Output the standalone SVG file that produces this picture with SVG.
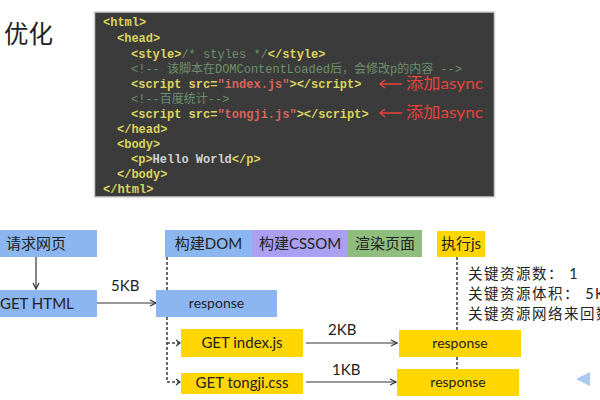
<svg xmlns="http://www.w3.org/2000/svg" width="600" height="400" viewBox="0 0 600 400">
<defs>
<style>
.code{font-family:"Liberation Mono","Noto Sans CJK SC",monospace;font-size:12px;font-weight:bold}
.tag{fill:#ddd45e}
.cm{fill:#6e8f6e;font-weight:normal}
.str{fill:#d8655c}
.txt{fill:#d2d2d2}
.red{font-family:"Lato","Noto Sans CJK SC",sans-serif;font-size:16px;fill:#e8433a}
.lbl{font-family:"Lato","Noto Sans CJK SC",sans-serif;font-size:15px;fill:#222}
.resp{font-size:14px}
.mid{text-anchor:middle}
.blue{fill:#8bb6ef}
.purple{fill:#aa9ff0}
.green{fill:#8fbd7e}
.yellow{fill:#ffd600}
.solid{stroke:#333;stroke-width:1.2;fill:none}
.dash{stroke:#444;stroke-width:1.6;fill:none;stroke-dasharray:3 2}
.info{font-family:"Lato","Noto Sans CJK SC",sans-serif;font-size:14.5px;letter-spacing:1.5px;fill:#222}
</style>
<marker id="chev" viewBox="0 0 8 8" refX="7" refY="4" markerWidth="8" markerHeight="8" markerUnits="userSpaceOnUse" orient="auto">
<path d="M1,1 L7,4 L1,7" fill="none" stroke="#333" stroke-width="1.2"/>
</marker>
</defs>
<rect width="600" height="400" fill="#ffffff"/>
<text x="4" y="43" font-family="Noto Sans CJK SC,sans-serif" font-size="24.5" fill="#222">优化</text>

<g id="code">
<rect x="94.5" y="12" width="400" height="185" fill="#3b3b3b" stroke="#cfcfcf" stroke-width="1.5"/>
<text class="code tag" x="103" y="26">&lt;html&gt;</text>
<text class="code tag" x="117" y="42">&lt;head&gt;</text>
<text class="code" x="131" y="58"><tspan class="tag">&lt;style&gt;</tspan><tspan class="cm">/* styles */</tspan><tspan class="tag">&lt;/style&gt;</tspan></text>
<text class="code cm" x="131" y="73" textLength="331" lengthAdjust="spacing">&lt;!-- 该脚本在DOMContentLoaded后，会修改p的内容 --&gt;</text>
<text class="code" x="131" y="88"><tspan class="tag">&lt;script src=</tspan><tspan class="str">"index.js"</tspan><tspan class="tag">&gt;&lt;/script&gt;</tspan></text>
<text class="code cm" x="131" y="103">&lt;!--百度统计--&gt;</text>
<text class="code" x="131" y="118"><tspan class="tag">&lt;script src=</tspan><tspan class="str">"tongji.js"</tspan><tspan class="tag">&gt;&lt;/script&gt;</tspan></text>
<text class="code tag" x="117" y="133">&lt;/head&gt;</text>
<text class="code tag" x="117" y="148">&lt;body&gt;</text>
<text class="code" x="131" y="163"><tspan class="tag">&lt;p&gt;</tspan><tspan class="txt">Hello World</tspan><tspan class="tag">&lt;/p&gt;</tspan></text>
<text class="code tag" x="117" y="178">&lt;/body&gt;</text>
<text class="code tag" x="103" y="193">&lt;/html&gt;</text>
<g id="async1"><path d="M380,84 H402 M385,80 L380,84 L385,88" fill="none" stroke="#e8433a" stroke-width="1.3"/><text class="red" x="406" y="89" textLength="77" lengthAdjust="spacingAndGlyphs">添加async</text></g>
<g id="async2"><path d="M380,113 H402 M385,109 L380,113 L385,117" fill="none" stroke="#e8433a" stroke-width="1.3"/><text class="red" x="406" y="118" textLength="77" lengthAdjust="spacingAndGlyphs">添加async</text></g>
</g>

<g id="connectors">
<line class="solid" x1="36" y1="257" x2="36" y2="289" marker-end="url(#chev)"/>
<line class="solid" x1="97" y1="303" x2="156" y2="303" marker-end="url(#chev)"/>
<line class="solid" x1="306" y1="343" x2="397" y2="343" marker-end="url(#chev)"/>
<line class="solid" x1="306" y1="382" x2="396" y2="382" marker-end="url(#chev)"/>
<path class="dash" d="M167,257 V382 H180"/>
<path class="dash" d="M167,343 H180"/>
<path d="M176,340 L180,343 L176,346 M176,379 L180,382 L176,385" fill="none" stroke="#333" stroke-width="1.2"/>
<path class="dash" d="M457,257 V330 M457,357 V369"/>
<text class="lbl" x="111" y="291">5KB</text>
<text class="lbl" x="328" y="335">2KB</text>
<text class="lbl" x="332" y="375">1KB</text>
</g>

<g id="req"><rect class="blue" x="0" y="230" width="97" height="27"/><text class="lbl" x="6" y="249">请求网页</text></g>
<g id="gethtml"><rect class="blue" x="0" y="290" width="97" height="27"/><text class="lbl" x="0" y="309">GET HTML</text></g>
<g id="resp1"><rect class="blue" x="156" y="290" width="121" height="27"/><text class="lbl mid resp" x="216.5" y="308">response</text></g>
<g id="dom"><rect class="blue" x="165" y="230" width="87" height="27"/><text class="lbl mid" x="208.5" y="249">构建DOM</text></g>
<g id="cssom"><rect class="purple" x="252" y="230" width="96" height="27"/><text class="lbl mid" x="300" y="249">构建CSSOM</text></g>
<g id="render"><rect class="green" x="348" y="230" width="74" height="27"/><text class="lbl mid" x="385" y="249">渲染页面</text></g>
<g id="execjs"><rect class="yellow" x="437" y="231" width="48" height="26"/><text class="lbl mid" x="461" y="249">执行js</text></g>
<g id="getindex"><rect class="yellow" x="181" y="329" width="122" height="28"/><text class="lbl mid" x="242" y="348">GET index.js</text></g>
<g id="gettongji"><rect class="yellow" x="181" y="373" width="122" height="21"/><text class="lbl mid" x="242" y="388">GET tongji.css</text></g>
<g id="resp2"><rect class="yellow" x="399" y="330" width="122" height="27"/><text class="lbl mid resp" x="460" y="348">response</text></g>
<g id="resp3"><rect class="yellow" x="397" y="369" width="122" height="27"/><text class="lbl mid resp" x="458" y="387">response</text></g>

<g id="info">
<text class="info" x="468" y="279">关键资源数： 1</text>
<text class="info" x="468" y="299">关键资源体积： 5KB</text>
<text class="info" x="468" y="319">关键资源网络来回数： 1</text>
</g>
<polygon points="590,372 590,386 576,379" fill="#a9c9f0"/>
</svg>
